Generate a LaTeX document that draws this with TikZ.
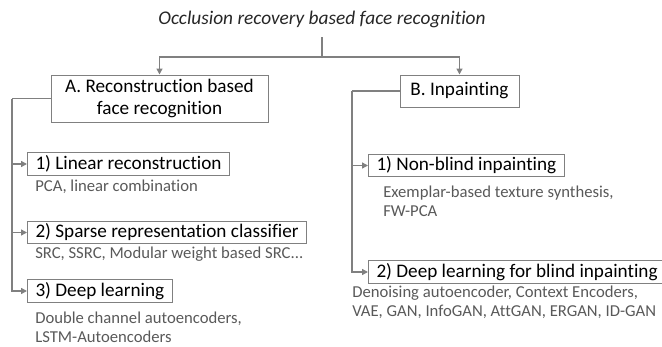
\documentclass[tikz,border=0pt]{standalone}
\usepackage{fontspec}
\setmainfont{Carlito}[Ligatures=NoCommon]
\usetikzlibrary{arrows.meta}
\definecolor{linegray}{RGB}{128,128,128}
\definecolor{notegray}{RGB}{89,89,89}
\tikzset{
  catbox/.style={draw=linegray,line width=.75pt,inner xsep=6pt,inner ysep=2pt,minimum height=17pt,font=\fontsize{14.4}{17}\selectfont},
  subbox/.style={catbox,anchor=west},
  note/.style={anchor=west,align=left,text=notegray,inner sep=0pt,font=\fontsize{12.5}{14.25}\selectfont},
  link/.style={draw=linegray,line width=1.1pt},
}
\begin{document}
\begin{tikzpicture}[x=.75pt,y=-.75pt,>={Triangle[length=4.5pt,width=4.5pt]}]
	\useasboundingbox (0,0) rectangle (662,347);
	% title and the two branches
	\node[font=\itshape\fontsize{14.5}{16}\selectfont,text=black!85] (title) at (322,19) {Occlusion recovery based face recognition};
	\node[catbox,align=center,minimum width=162.75pt,minimum height=35.25pt] (recon) at (159.5,98.5) {A. Reconstruction based\\face recognition};
	\node[catbox,minimum width=89.25pt,minimum height=24pt] (inpaint) at (459.5,91) {B. Inpainting};
	\coordinate (fork) at (322,57);
	\draw[link] (title.south) ++(0,5) -- (fork);
	\draw[link,->] (fork) -| (recon.north);
	\draw[link,->] (fork) -| (inpaint.north);
	% A. reconstruction
	\node[subbox] (linear) at (27,164) {1) Linear reconstruction};
	\node[note] (linearnote) at (35,187) {PCA, linear combination};
	\node[subbox] (sparse) at (27,232.5) {2) Sparse representation classifier};
	\node[note] (sparsenote) at (35,254) {SRC, SSRC, Modular weight based SRC...};
	\node[subbox] (deep) at (27,291) {3) Deep learning};
	\node[note] (deepnote) at (35,327.5) {Double channel autoencoders,\\LSTM-Autoencoders};
	\coordinate (reconspine) at (12,98.5);
	\draw[link] (recon.west) -- (reconspine);
	\foreach \n in {linear,sparse,deep}
		\draw[link,->] (reconspine) |- (\n.west);
	% B. inpainting
	\node[subbox] (nonblind) at (368,165.5) {1) Non-blind inpainting};
	\node[note] (nonblindnote) at (383,201.5) {Exemplar-based texture synthesis,\\FW-PCA};
	\node[subbox] (blind) at (368,272) {2) Deep learning for blind inpainting};
	\node[note] (blindnote) at (352,302.5) {Denoising autoencoder, Context Encoders,\\VAE, GAN, InfoGAN, AttGAN, ERGAN, ID-GAN};
	\coordinate (inpaintspine) at (352,91);
	\draw[link] (inpaint.west) -- (inpaintspine);
	\foreach \n in {nonblind,blind}
		\draw[link,->] (inpaintspine) |- (\n.west);
\end{tikzpicture}
\end{document}
